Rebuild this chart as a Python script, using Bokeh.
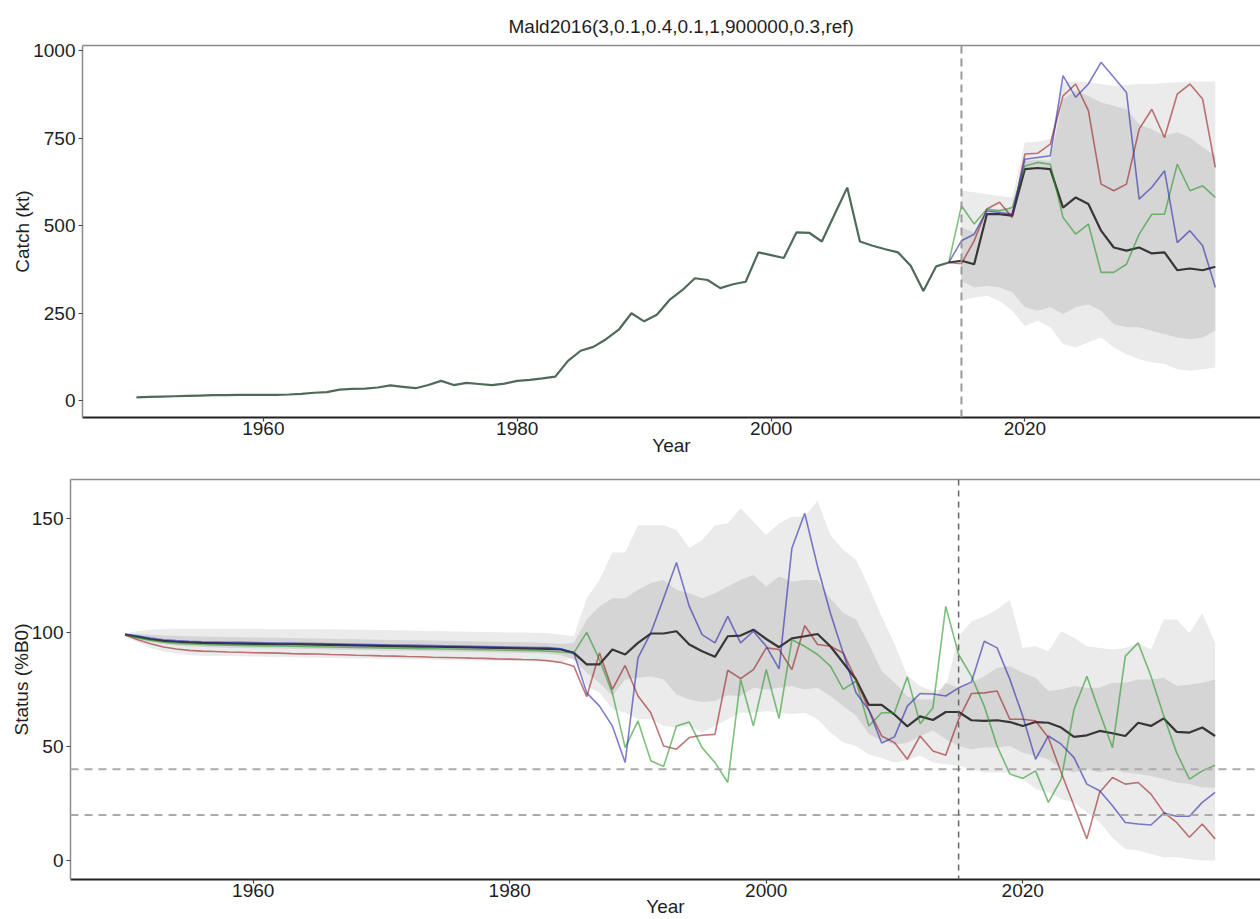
from bokeh.plotting import figure
from bokeh.models import Range1d, Span, LinearAxis, FixedTicker
from bokeh.embed import file_html
from bokeh.resources import INLINE

# ---------------- Catch (kt) ----------------
hist_years = list(range(1950, 2015))
hist_catch = [
    10, 11, 12, 13, 14, 15, 16, 16, 17, 17,
    17, 17, 18, 20, 23, 25, 32, 34, 35, 38,
    44, 40, 36, 45, 57, 45, 51, 48, 45, 49,
    57, 60, 64, 69, 114, 143, 154, 176, 203, 250,
    227, 246, 288, 316, 350, 345, 322, 333, 340, 424,
    416, 408, 481, 480, 455, 532, 609, 455, 443, 433,
    424, 386, 314, 384, 395]

proj_years = list(range(2015, 2036))
catch_median = [400, 390, 533, 533, 529, 662, 665, 662, 552, 581, 562,
                486, 438, 429, 438, 421, 424, 373, 378, 373, 383]
catch_sim_red = [392, 457, 548, 567, 524, 705, 707, 733, 871, 905, 829,
                 619, 600, 619, 776, 833, 752, 876, 905, 862, 667]
catch_sim_blue = [457, 476, 543, 538, 533, 690, 695, 700, 929, 867, 905,
                  967, 924, 881, 576, 610, 657, 452, 486, 443, 324]
catch_sim_green = [557, 505, 548, 543, 552, 671, 681, 676, 524, 476, 505,
                   367, 367, 390, 476, 533, 533, 676, 600, 614, 581]
catch_q05 = [286, 295, 300, 286, 257, 214, 229, 210, 162, 152, 167,
             181, 152, 133, 119, 110, 105, 90, 86, 90, 95]
catch_q95 = [600, 596, 590, 585, 581, 738, 740, 748, 910, 912, 910,
             905, 900, 902, 905, 905, 908, 910, 912, 912, 912]
catch_q25 = [343, 324, 329, 324, 310, 267, 257, 267, 248, 267, 276,
             257, 219, 210, 210, 200, 190, 181, 176, 181, 200]
catch_q75 = [495, 481, 543, 548, 552, 686, 688, 686, 862, 886, 871,
             852, 843, 833, 790, 776, 757, 767, 752, 724, 700]

# ---------------- Status (%B0) ----------------
status_years = list(range(1950, 2036))
status_median = [
    99.0, 98.0, 97.0, 96.3, 95.9, 95.6, 95.4, 95.3, 95.2, 95.1,
    95.0, 94.9, 94.8, 94.8, 94.7, 94.6, 94.5, 94.4, 94.3, 94.2,
    94.1, 94.0, 93.9, 93.8, 93.7, 93.6, 93.5, 93.4, 93.3, 93.2,
    93.1, 93.0, 92.9, 92.8, 92.5, 91.0, 86.0, 86.0, 92.5, 90.3,
    95.4, 99.5, 99.5, 100.5, 94.7, 91.7, 89.3, 98.3, 98.6, 101.2,
    97.1, 93.5, 97.4, 98.3, 99.3, 93.9, 86.7, 79.4, 68.2, 68.2,
    64.0, 58.8, 63.2, 61.6, 65.1, 65.1, 61.5, 61.2, 61.5, 60.7,
    59.0, 60.7, 60.4, 58.3, 54.2, 54.9, 56.8, 55.8, 54.6, 60.4,
    59.0, 62.3, 56.4, 56.1, 58.3, 54.6]
status_sim_red = [
    98.8, 96.8, 95.0, 93.6, 92.7, 92.1, 91.8, 91.6, 91.4, 91.3,
    91.1, 91.0, 90.9, 90.7, 90.6, 90.5, 90.3, 90.2, 90.0, 89.9,
    89.7, 89.6, 89.4, 89.3, 89.1, 89.0, 88.9, 88.7, 88.6, 88.4,
    88.3, 88.1, 88.0, 87.6, 86.8, 85.2, 71.8, 91.0, 75.0, 85.5,
    72.1, 64.8, 50.2, 48.8, 53.9, 54.9, 55.3, 83.4, 79.7, 83.7,
    93.2, 92.5, 83.7, 103.0, 94.7, 93.9, 91.0, 79.4, 66.0, 54.6,
    51.7, 44.4, 54.6, 48.0, 46.2, 61.9, 73.2, 73.5, 74.3, 61.9,
    61.9, 61.2, 53.9, 38.6, 24.0, 9.5, 29.9, 36.4, 33.5, 34.2,
    29.1, 21.1, 16.7, 10.2, 16.0, 9.5]
status_sim_green = [
    99.0, 97.6, 96.5, 95.7, 95.2, 94.9, 94.7, 94.5, 94.4, 94.3,
    94.2, 94.1, 94.0, 93.9, 93.8, 93.7, 93.6, 93.5, 93.4, 93.3,
    93.2, 93.1, 93.0, 92.9, 92.8, 92.7, 92.6, 92.5, 92.4, 92.3,
    92.2, 92.1, 92.0, 91.8, 91.4, 91.0, 100.0, 88.0, 73.5, 49.5,
    61.2, 43.7, 41.2, 59.0, 60.7, 49.5, 43.0, 34.2, 79.4, 59.0,
    83.7, 62.2, 96.8, 93.9, 90.3, 85.2, 75.0, 78.7, 59.0, 64.8,
    64.8, 80.5, 60.0, 67.0, 111.4, 90.3, 80.8, 67.7, 50.2, 37.9,
    36.0, 39.3, 25.5, 35.7, 66.3, 80.8, 64.8, 49.5, 89.6, 95.4,
    80.8, 63.3, 47.3, 35.7, 39.3, 41.8]
status_sim_blue = [
    99.3, 98.4, 97.5, 96.8, 96.4, 96.1, 95.9, 95.8, 95.7, 95.6,
    95.5, 95.4, 95.3, 95.3, 95.2, 95.1, 95.0, 94.9, 94.8, 94.7,
    94.6, 94.5, 94.4, 94.3, 94.2, 94.1, 94.0, 93.9, 93.8, 93.7,
    93.6, 93.5, 93.4, 93.3, 92.8, 91.0, 73.5, 67.7, 59.0, 43.0,
    88.8, 99.8, 115.0, 130.6, 111.4, 99.0, 95.4, 107.0, 95.4, 100.5,
    93.9, 84.0, 136.9, 152.2, 128.9, 108.5, 91.0, 73.5, 66.0, 51.5,
    54.2, 67.7, 73.2, 73.0, 72.1, 75.7, 78.2, 96.1, 93.2, 79.4,
    63.3, 44.4, 54.6, 51.0, 45.1, 33.5, 30.6, 24.0, 16.7, 16.0,
    15.6, 20.8, 19.4, 19.4, 25.5, 29.9]
status_q05 = [
    98.2, 95.6, 93.2, 91.6, 90.6, 90.1, 89.8, 89.7, 89.6, 89.5,
    89.4, 89.3, 89.2, 89.1, 89.0, 88.9, 88.8, 88.7, 88.6, 88.5,
    88.4, 88.3, 88.2, 88.1, 88.0, 87.9, 87.8, 87.7, 87.6, 87.5,
    87.4, 87.3, 87.2, 87.0, 86.5, 89.6, 76.5, 73.5, 66.3, 64.8,
    61.9, 61.9, 59.0, 58.3, 59.0, 56.1, 59.0, 61.9, 64.8, 64.8,
    65.5, 64.8, 64.1, 64.8, 61.9, 56.1, 51.7, 50.2, 46.5, 45.0,
    43.0, 44.0, 46.0, 43.0, 42.2, 41.5, 40.0, 38.6, 38.6, 38.6,
    35.7, 31.3, 29.9, 27.0, 25.5, 21.1, 16.7, 10.0, 5.1, 4.4,
    2.9, 1.5, 1.5, 0.7, 0.0, 0.0]
status_q95 = [
    99.5, 100.6, 101.2, 101.5, 101.6, 101.6, 101.6, 101.6, 101.6, 101.6,
    101.6, 101.5, 101.5, 101.5, 101.5, 101.4, 101.4, 101.3, 101.2, 101.1,
    101.0, 100.9, 100.8, 100.7, 100.6, 100.5, 100.4, 100.3, 100.2, 100.1,
    100.0, 99.9, 99.8, 99.6, 99.0, 98.3, 115.0, 123.0, 135.0, 135.0,
    147.0, 147.0, 147.0, 145.0, 137.0, 140.5, 147.0, 147.8, 154.4, 148.5,
    142.7, 147.8, 150.7, 150.7, 157.7, 142.7, 136.2, 131.8, 120.0, 107.0,
    95.0, 81.0, 76.5, 74.3, 75.7, 98.3, 104.8, 107.0, 110.0, 114.3,
    93.2, 93.9, 91.7, 100.5, 97.6, 93.9, 93.2, 92.5, 93.2, 95.4,
    92.5, 105.6, 105.6, 99.7, 108.5, 95.4]
status_q25 = [
    98.8, 97.2, 95.8, 94.8, 94.2, 93.8, 93.6, 93.4, 93.3, 93.2,
    93.1, 93.0, 92.9, 92.8, 92.7, 92.6, 92.5, 92.4, 92.3, 92.2,
    92.1, 92.0, 91.9, 91.8, 91.7, 91.6, 91.5, 91.4, 91.3, 91.2,
    91.1, 91.0, 90.9, 90.6, 90.0, 88.1, 82.3, 77.9, 72.1, 79.4,
    80.1, 80.8, 79.4, 72.8, 70.6, 69.5, 69.9, 72.4, 72.1, 75.7,
    75.0, 75.7, 76.5, 75.0, 75.7, 72.1, 67.7, 63.5, 55.5, 52.5,
    51.0, 51.5, 54.6, 57.0, 53.2, 50.2, 48.8, 49.5, 49.5, 50.2,
    47.3, 45.9, 44.4, 40.0, 38.6, 40.0, 38.6, 40.0, 38.6, 37.9,
    37.1, 35.7, 34.2, 33.5, 32.0, 32.0]
status_q75 = [
    99.3, 99.3, 99.0, 98.7, 98.5, 98.3, 98.2, 98.1, 98.0, 97.9,
    97.8, 97.7, 97.6, 97.5, 97.4, 97.3, 97.2, 97.1, 97.0, 96.9,
    96.8, 96.7, 96.6, 96.5, 96.4, 96.3, 96.2, 96.1, 96.0, 95.9,
    95.8, 95.7, 95.6, 95.4, 95.0, 95.4, 105.6, 111.4, 115.0, 115.0,
    118.7, 121.6, 123.0, 118.7, 117.2, 115.0, 117.2, 120.1, 123.0, 125.2,
    120.1, 124.5, 122.3, 123.0, 123.0, 115.0, 108.5, 105.6, 95.0, 83.0,
    78.0, 72.0, 70.6, 70.6, 77.9, 75.7, 77.9, 80.8, 84.5, 85.2,
    82.3, 80.1, 74.3, 75.0, 76.5, 75.7, 75.7, 77.9, 77.9, 79.4,
    79.4, 80.1, 76.5, 77.2, 77.9, 79.4]

catch_ticks = [0, 250, 500, 750, 1000]
status_ticks = [0, 50, 100, 150]
year_ticks = [1960, 1980, 2000, 2020]
projection_start = 2015
status_refs = [40, 20]

TITLE = "Mald2016(3,0.1,0.4,0.1,1,900000,0.3,ref)"
FONT = "Liberation Sans"
TXT = "#1e1e1e"

BAND_OUTER = "#ebebeb"
BAND_INNER = "#d5d5d5"
COL_MED = "#1a1a1a"
COL_RED = "#961e1e"
COL_GREEN = "#289628"
COL_BLUE = "#2828aa"
COL_HIST = "#4f6a58"


def style(p, yticks, ylabel, xlabel_standoff):
    p.xgrid.grid_line_color = None
    p.ygrid.grid_line_color = None
    p.outline_line_color = None
    p.background_fill_color = "white"
    p.border_fill_color = "white"
    p.xaxis.ticker = FixedTicker(ticks=year_ticks)
    p.yaxis.ticker = FixedTicker(ticks=yticks)
    p.xaxis.axis_label = "Year"
    p.yaxis.axis_label = ylabel
    for ax in (p.xaxis[0], p.yaxis[0]):
        ax.major_tick_out = 4
        ax.major_tick_in = 0
        ax.minor_tick_line_color = None
        ax.major_tick_line_color = "#444444"
        ax.major_tick_line_width = 1.2
        ax.major_label_text_font = FONT
        ax.major_label_text_font_size = "19px"
        ax.major_label_text_color = TXT
        ax.axis_label_text_font = FONT
        ax.axis_label_text_font_size = "19px"
        ax.axis_label_text_font_style = "normal"
        ax.axis_label_text_color = TXT
    p.xaxis.axis_line_color = "#222222"
    p.xaxis.axis_line_width = 2
    p.xaxis.major_label_standoff = 0
    p.xaxis.axis_label_standoff = xlabel_standoff
    p.yaxis.axis_line_color = "#8c8c8c"
    p.yaxis.axis_line_width = 1.5
    p.yaxis.major_label_standoff = 3
    p.yaxis.axis_label_standoff = -3
    # thin grey frame line along the top of the panel
    top = LinearAxis(ticker=FixedTicker(ticks=[]), axis_line_color="#8c8c8c",
                     axis_line_width=1.5, major_tick_line_color=None,
                     minor_tick_line_color=None)
    p.add_layout(top, "above")


# ---------- upper panel ----------
p1 = figure(width=1260, height=458, output_backend="svg", toolbar_location=None,
            x_range=Range1d(1945.75, 2038.56), y_range=Range1d(-47.7, 1015),
            min_border_left=82, min_border_right=0, min_border_top=45,
            min_border_bottom=0)
style(p1, catch_ticks, "Catch (kt)", -3)
p1.title.text = TITLE
p1.title.text_font = FONT
p1.title.text_font_size = "19px"
p1.title.text_font_style = "normal"
p1.title.text_color = TXT
p1.title.align = "left"
p1.title.offset = 426
p1.title.standoff = 18

p1.varea(x=proj_years, y1=catch_q05, y2=catch_q95, fill_color=BAND_OUTER)
p1.varea(x=proj_years, y1=catch_q25, y2=catch_q75, fill_color=BAND_INNER)
p1.add_layout(Span(location=projection_start, dimension="height",
                   line_color="#999999", line_width=2, line_dash="8 5"))

p1.line(hist_years, hist_catch, line_color=COL_HIST, line_width=2.2)
link_x = [hist_years[-1]] + proj_years
p1.line(link_x, [hist_catch[-1]] + catch_median, line_color=COL_MED,
        line_alpha=0.85, line_width=2.2)
for series, col in ((catch_sim_red, COL_RED), (catch_sim_green, COL_GREEN),
                    (catch_sim_blue, COL_BLUE)):
    p1.line(link_x, [hist_catch[-1]] + series, line_color=col,
            line_alpha=0.6, line_width=1.6)

# ---------- lower panel ----------
p2 = figure(width=1260, height=461, output_backend="svg", toolbar_location=None,
            x_range=Range1d(1945.75, 2038.54), y_range=Range1d(-8.3, 167.0),
            min_border_left=70, min_border_right=0, min_border_top=21,
            min_border_bottom=0)
style(p2, status_ticks, "Status (%B0)", -4)

p2.varea(x=status_years, y1=status_q05, y2=status_q95, fill_color=BAND_OUTER)
p2.varea(x=status_years, y1=status_q25, y2=status_q75, fill_color=BAND_INNER)
for ref in status_refs:
    p2.add_layout(Span(location=ref, dimension="width", line_color="#aaaaaa",
                       line_width=2, line_dash="8 6"))
p2.add_layout(Span(location=projection_start, dimension="height",
                   line_color="#666666", line_width=1.5, line_dash="6 5"))

p2.line(status_years, status_median, line_color=COL_MED, line_alpha=0.85,
        line_width=2.2)
for series, col in ((status_sim_red, COL_RED), (status_sim_green, COL_GREEN),
                    (status_sim_blue, COL_BLUE)):
    p2.line(status_years, series, line_color=col, line_alpha=0.6,
            line_width=1.6)

# two independent roots, stacked, so each panel keeps its own left margin
open("out.html", "w").write(file_html([p1, p2], INLINE))
